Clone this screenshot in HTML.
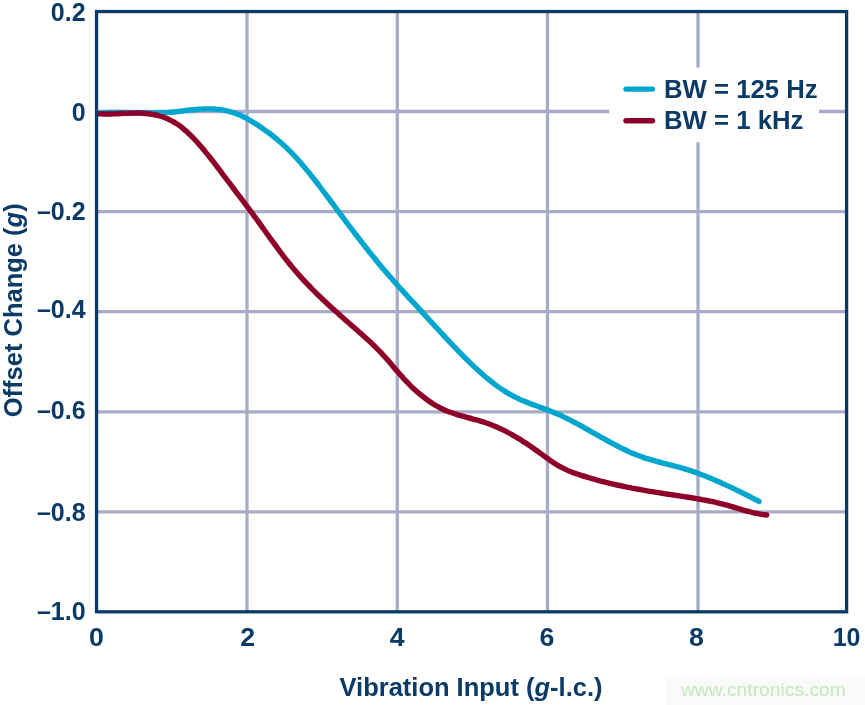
<!DOCTYPE html><html><head><meta charset="utf-8"><title>chart</title><style>html,body{margin:0;padding:0;background:#fff}svg{display:block;will-change:transform}text{font-family:"Liberation Sans",sans-serif;font-weight:bold;font-size:25px;fill:#0a3a66}</style></head><body>
<svg width="865" height="705" viewBox="0 0 865 705">
<rect width="865" height="705" fill="#fff"/>
<rect x="665" y="675" width="200" height="30" fill="#fafafa"/>
<g stroke="#a8acc6" stroke-width="3.3" fill="none">
<line x1="247.0" y1="11.55" x2="247.0" y2="611.8"/>
<line x1="397.3" y1="11.55" x2="397.3" y2="611.8"/>
<line x1="547.5" y1="11.55" x2="547.5" y2="611.8"/>
<line x1="698.0" y1="11.55" x2="698.0" y2="611.8"/>
<line x1="96.55" y1="111.5" x2="846.6" y2="111.5"/>
<line x1="96.55" y1="211.6" x2="846.6" y2="211.6"/>
<line x1="96.55" y1="311.7" x2="846.6" y2="311.7"/>
<line x1="96.55" y1="411.8" x2="846.6" y2="411.8"/>
<line x1="96.55" y1="511.9" x2="846.6" y2="511.9"/>
</g>
<rect x="609.4" y="67.6" width="209.6" height="74.5" fill="#fff"/>
<g fill="none" stroke-width="5.4" stroke-linecap="round" stroke-linejoin="round">
<path stroke="#00a6ce" d="M98.1 112.9C98.9 112.9 101.4 112.7 103.1 112.7C104.8 112.6 106.4 112.6 108.1 112.5C109.8 112.5 111.5 112.5 113.1 112.4C114.8 112.4 116.5 112.4 118.1 112.4C119.8 112.5 121.5 112.5 123.1 112.5C124.8 112.5 126.5 112.5 128.1 112.6C129.8 112.6 131.5 112.6 133.1 112.7C134.8 112.7 136.5 112.7 138.2 112.8C139.8 112.8 141.5 112.8 143.2 112.8C144.8 112.9 146.5 112.9 148.2 112.9C149.8 112.9 151.5 112.9 153.2 112.9C154.8 112.9 156.5 112.8 158.2 112.8C159.9 112.8 161.5 112.7 163.2 112.6C164.9 112.6 166.5 112.5 168.2 112.4C169.9 112.3 171.5 112.1 173.2 112.0C174.9 111.8 176.5 111.7 178.2 111.5C179.9 111.3 181.5 111.1 183.2 110.9C184.9 110.7 186.6 110.5 188.2 110.3C189.9 110.1 191.6 109.9 193.2 109.7C194.9 109.6 196.6 109.4 198.2 109.3C199.9 109.2 201.6 109.0 203.2 109.0C204.9 108.9 206.6 108.9 208.2 108.9C209.9 108.9 211.6 108.9 213.3 109.0C214.9 109.1 216.6 109.2 218.3 109.4C219.9 109.6 221.6 109.8 223.3 110.1C224.9 110.4 226.6 110.8 228.3 111.2C229.9 111.6 231.6 112.1 233.3 112.7C235.0 113.2 236.6 113.9 238.3 114.6C240.0 115.3 241.6 116.0 243.3 116.8C245.0 117.6 246.6 118.5 248.3 119.4C250.0 120.3 251.6 121.3 253.3 122.3C255.0 123.3 256.6 124.4 258.3 125.5C260.0 126.6 261.7 127.7 263.3 128.9C265.0 130.0 266.7 131.2 268.3 132.5C270.0 133.7 271.7 135.0 273.3 136.3C275.0 137.7 276.7 139.0 278.3 140.5C280.0 141.9 281.7 143.4 283.4 144.9C285.0 146.4 286.7 148.0 288.4 149.7C290.0 151.3 291.7 153.0 293.4 154.7C295.0 156.5 296.7 158.3 298.4 160.2C300.0 162.1 301.7 164.0 303.4 166.0C305.0 167.9 306.7 170.0 308.4 172.0C310.1 174.1 311.7 176.2 313.4 178.3C315.1 180.4 316.7 182.6 318.4 184.7C320.1 186.9 321.7 189.1 323.4 191.3C325.1 193.5 326.7 195.8 328.4 198.0C330.1 200.2 331.8 202.5 333.4 204.7C335.1 207.0 336.8 209.2 338.4 211.5C340.1 213.7 341.8 215.9 343.4 218.2C345.1 220.4 346.8 222.6 348.4 224.8C350.1 227.0 351.8 229.2 353.4 231.4C355.1 233.6 356.8 235.8 358.5 238.0C360.1 240.1 361.8 242.3 363.5 244.4C365.1 246.6 366.8 248.7 368.5 250.8C370.1 252.9 371.8 255.0 373.5 257.0C375.1 259.1 376.8 261.1 378.5 263.2C380.2 265.2 381.8 267.2 383.5 269.2C385.2 271.1 386.8 273.1 388.5 275.0C390.2 276.9 391.8 278.8 393.5 280.7C395.2 282.6 396.8 284.4 398.5 286.3C400.2 288.1 401.8 290.0 403.5 291.8C405.2 293.6 406.9 295.4 408.5 297.3C410.2 299.1 411.9 300.9 413.5 302.7C415.2 304.5 416.9 306.3 418.5 308.1C420.2 309.9 421.9 311.8 423.5 313.6C425.2 315.4 426.9 317.2 428.5 319.1C430.2 320.9 431.9 322.7 433.6 324.5C435.2 326.4 436.9 328.2 438.6 330.0C440.2 331.8 441.9 333.6 443.6 335.4C445.2 337.2 446.9 339.0 448.6 340.8C450.2 342.6 451.9 344.3 453.6 346.1C455.3 347.8 456.9 349.6 458.6 351.3C460.3 353.0 461.9 354.7 463.6 356.4C465.3 358.1 466.9 359.7 468.6 361.3C470.3 363.0 471.9 364.6 473.6 366.1C475.3 367.7 476.9 369.3 478.6 370.8C480.3 372.3 482.0 373.8 483.6 375.2C485.3 376.7 487.0 378.1 488.6 379.4C490.3 380.8 492.0 382.1 493.6 383.4C495.3 384.7 497.0 385.9 498.6 387.1C500.3 388.3 502.0 389.4 503.7 390.5C505.3 391.6 507.0 392.6 508.7 393.6C510.3 394.6 512.0 395.5 513.7 396.3C515.3 397.2 517.0 398.0 518.7 398.8C520.3 399.6 522.0 400.3 523.7 401.0C525.3 401.7 527.0 402.4 528.7 403.0C530.4 403.7 532.0 404.3 533.7 404.9C535.4 405.5 537.0 406.1 538.7 406.7C540.4 407.3 542.0 407.9 543.7 408.6C545.4 409.2 547.0 409.8 548.7 410.4C550.4 411.1 552.1 411.7 553.7 412.4C555.4 413.1 557.1 413.8 558.7 414.6C560.4 415.3 562.1 416.1 563.7 416.9C565.4 417.7 567.1 418.5 568.7 419.4C570.4 420.2 572.1 421.1 573.7 422.0C575.4 422.9 577.1 423.8 578.8 424.7C580.4 425.6 582.1 426.5 583.8 427.4C585.4 428.4 587.1 429.3 588.8 430.3C590.4 431.2 592.1 432.2 593.8 433.1C595.4 434.0 597.1 435.0 598.8 435.9C600.5 436.9 602.1 437.8 603.8 438.7C605.5 439.7 607.1 440.6 608.8 441.5C610.5 442.4 612.1 443.3 613.8 444.2C615.5 445.1 617.1 446.0 618.8 446.8C620.5 447.7 622.1 448.5 623.8 449.3C625.5 450.1 627.2 450.9 628.8 451.6C630.5 452.4 632.2 453.1 633.8 453.8C635.5 454.5 637.2 455.2 638.8 455.8C640.5 456.4 642.2 457.0 643.8 457.6C645.5 458.2 647.2 458.7 648.9 459.2C650.5 459.7 652.2 460.2 653.9 460.6C655.5 461.1 657.2 461.6 658.9 462.0C660.5 462.4 662.2 462.9 663.9 463.3C665.5 463.7 667.2 464.1 668.9 464.6C670.5 465.0 672.2 465.4 673.9 465.8C675.6 466.3 677.2 466.7 678.9 467.2C680.6 467.7 682.2 468.1 683.9 468.6C685.6 469.1 687.2 469.7 688.9 470.2C690.6 470.7 692.2 471.3 693.9 471.9C695.6 472.5 697.2 473.1 698.9 473.7C700.6 474.3 702.3 474.9 703.9 475.6C705.6 476.2 707.3 476.9 708.9 477.6C710.6 478.2 712.3 478.9 713.9 479.6C715.6 480.4 717.3 481.1 718.9 481.8C720.6 482.6 722.3 483.3 724.0 484.1C725.6 484.8 727.3 485.6 729.0 486.4C730.6 487.2 732.3 488.0 734.0 488.8C735.6 489.6 737.3 490.4 739.0 491.2C740.6 492.0 742.3 492.9 744.0 493.7C745.6 494.6 747.3 495.4 749.0 496.3C750.7 497.1 752.3 498.0 754.0 498.8C755.7 499.7 758.2 501.0 759.0 501.4"/>
<path stroke="#8e0029" d="M98.1 113.7C98.9 113.8 101.4 113.9 103.1 114.0C104.8 114.0 106.4 114.0 108.1 114.0C109.7 114.0 111.4 113.9 113.1 113.9C114.7 113.8 116.4 113.8 118.1 113.7C119.7 113.6 121.4 113.5 123.0 113.4C124.7 113.4 126.4 113.3 128.0 113.2C129.7 113.1 131.4 113.1 133.0 113.1C134.7 113.0 136.4 113.0 138.0 113.0C139.7 113.1 141.3 113.1 143.0 113.2C144.7 113.3 146.3 113.5 148.0 113.7C149.7 113.8 151.3 114.1 153.0 114.4C154.6 114.7 156.3 115.0 158.0 115.5C159.6 115.9 161.3 116.4 163.0 117.0C164.6 117.6 166.3 118.2 168.0 119.0C169.6 119.7 171.3 120.6 172.9 121.5C174.6 122.4 176.3 123.5 177.9 124.6C179.6 125.7 181.3 127.0 182.9 128.3C184.6 129.7 186.2 131.2 187.9 132.7C189.6 134.2 191.2 135.9 192.9 137.6C194.6 139.3 196.2 141.1 197.9 143.0C199.6 144.9 201.2 146.8 202.9 148.8C204.5 150.8 206.2 152.8 207.9 154.9C209.5 156.9 211.2 159.1 212.9 161.2C214.5 163.3 216.2 165.5 217.8 167.7C219.5 169.9 221.2 172.1 222.8 174.3C224.5 176.5 226.2 178.7 227.8 180.9C229.5 183.1 231.2 185.3 232.8 187.5C234.5 189.7 236.1 191.9 237.8 194.1C239.5 196.3 241.1 198.5 242.8 200.7C244.5 203.0 246.1 205.2 247.8 207.4C249.4 209.6 251.1 211.9 252.8 214.1C254.4 216.4 256.1 218.7 257.8 220.9C259.4 223.2 261.1 225.5 262.8 227.8C264.4 230.1 266.1 232.4 267.7 234.7C269.4 237.1 271.1 239.4 272.7 241.6C274.4 243.9 276.1 246.2 277.7 248.4C279.4 250.7 281.1 252.9 282.7 255.1C284.4 257.3 286.0 259.4 287.7 261.5C289.4 263.6 291.0 265.7 292.7 267.7C294.4 269.7 296.0 271.6 297.7 273.5C299.3 275.4 301.0 277.3 302.7 279.1C304.3 280.9 306.0 282.7 307.7 284.4C309.3 286.2 311.0 287.9 312.7 289.6C314.3 291.2 316.0 292.9 317.6 294.5C319.3 296.1 321.0 297.7 322.6 299.3C324.3 300.9 326.0 302.5 327.6 304.0C329.3 305.6 330.9 307.1 332.6 308.6C334.3 310.1 335.9 311.6 337.6 313.1C339.3 314.6 340.9 316.1 342.6 317.5C344.3 319.0 345.9 320.5 347.6 321.9C349.2 323.4 350.9 324.8 352.6 326.3C354.2 327.7 355.9 329.2 357.6 330.6C359.2 332.1 360.9 333.5 362.5 335.0C364.2 336.5 365.9 338.0 367.5 339.5C369.2 341.0 370.9 342.6 372.5 344.2C374.2 345.8 375.9 347.4 377.5 349.1C379.2 350.7 380.8 352.5 382.5 354.3C384.2 356.1 385.8 357.9 387.5 359.8C389.2 361.7 390.8 363.7 392.5 365.7C394.1 367.7 395.8 369.7 397.5 371.6C399.1 373.5 400.8 375.4 402.5 377.2C404.1 379.1 405.8 380.8 407.5 382.5C409.1 384.3 410.8 385.9 412.4 387.5C414.1 389.1 415.8 390.6 417.4 392.1C419.1 393.5 420.8 394.9 422.4 396.2C424.1 397.6 425.7 398.8 427.4 400.0C429.1 401.2 430.7 402.4 432.4 403.4C434.1 404.5 435.7 405.5 437.4 406.4C439.1 407.3 440.7 408.2 442.4 409.0C444.0 409.8 445.7 410.5 447.4 411.2C449.0 411.8 450.7 412.4 452.4 413.0C454.0 413.6 455.7 414.1 457.3 414.6C459.0 415.2 460.7 415.6 462.3 416.1C464.0 416.6 465.7 417.0 467.3 417.5C469.0 417.9 470.7 418.3 472.3 418.8C474.0 419.2 475.6 419.7 477.3 420.2C479.0 420.6 480.6 421.1 482.3 421.6C484.0 422.2 485.6 422.7 487.3 423.3C488.9 423.9 490.6 424.5 492.3 425.2C493.9 425.8 495.6 426.5 497.3 427.3C498.9 428.0 500.6 428.8 502.3 429.6C503.9 430.4 505.6 431.2 507.2 432.1C508.9 432.9 510.6 433.8 512.2 434.8C513.9 435.7 515.6 436.7 517.2 437.7C518.9 438.7 520.5 439.7 522.2 440.8C523.9 441.8 525.5 442.9 527.2 444.0C528.9 445.2 530.5 446.3 532.2 447.5C533.9 448.6 535.5 449.8 537.2 451.0C538.8 452.2 540.5 453.4 542.2 454.6C543.8 455.8 545.5 457.0 547.2 458.2C548.8 459.4 550.5 460.6 552.1 461.7C553.8 462.9 555.5 464.0 557.1 465.0C558.8 465.9 560.5 466.9 562.1 467.7C563.8 468.6 565.5 469.4 567.1 470.1C568.8 470.9 570.4 471.5 572.1 472.2C573.8 472.8 575.4 473.4 577.1 474.0C578.8 474.6 580.4 475.1 582.1 475.7C583.7 476.2 585.4 476.7 587.1 477.2C588.7 477.7 590.4 478.2 592.1 478.7C593.7 479.1 595.4 479.6 597.1 480.1C598.7 480.5 600.4 480.9 602.0 481.4C603.7 481.8 605.4 482.2 607.0 482.6C608.7 483.0 610.4 483.4 612.0 483.8C613.7 484.2 615.4 484.6 617.0 485.0C618.7 485.3 620.3 485.7 622.0 486.0C623.7 486.4 625.3 486.7 627.0 487.1C628.7 487.4 630.3 487.7 632.0 488.1C633.6 488.4 635.3 488.7 637.0 489.0C638.6 489.3 640.3 489.6 642.0 489.9C643.6 490.2 645.3 490.5 647.0 490.8C648.6 491.1 650.3 491.4 651.9 491.6C653.6 491.9 655.3 492.2 656.9 492.4C658.6 492.7 660.3 493.0 661.9 493.2C663.6 493.5 665.2 493.8 666.9 494.0C668.6 494.3 670.2 494.5 671.9 494.8C673.6 495.0 675.2 495.3 676.9 495.5C678.6 495.8 680.2 496.0 681.9 496.3C683.5 496.5 685.2 496.8 686.9 497.0C688.5 497.3 690.2 497.6 691.9 497.8C693.5 498.1 695.2 498.4 696.8 498.7C698.5 499.0 700.2 499.2 701.8 499.6C703.5 499.9 705.2 500.2 706.8 500.5C708.5 500.8 710.2 501.2 711.8 501.5C713.5 501.9 715.1 502.3 716.8 502.6C718.5 503.0 720.1 503.4 721.8 503.9C723.5 504.3 725.1 504.7 726.8 505.2C728.4 505.7 730.1 506.2 731.8 506.6C733.4 507.1 735.1 507.6 736.8 508.1C738.4 508.6 740.1 509.1 741.8 509.6C743.4 510.1 745.1 510.5 746.7 511.0C748.4 511.4 750.1 511.9 751.7 512.3C753.4 512.7 755.1 513.1 756.7 513.4C758.4 513.8 760.0 514.1 761.7 514.4C763.4 514.6 765.9 514.9 766.7 515.0"/>
<line stroke="#00a6ce" x1="626" y1="89.1" x2="652.5" y2="89.1"/>
<line stroke="#8e0029" x1="626" y1="120.7" x2="652.5" y2="120.7"/>
</g>
<rect x="96.55" y="11.55" width="750.0500000000001" height="600.25" fill="none" stroke="#0a3a66" stroke-width="3.3"/>
<text id="lg1" transform="translate(664.00 97.80) scale(1.0300 1)" text-anchor="start" >BW = 125 Hz</text>
<text id="lg2" transform="translate(664.00 129.00) scale(1.0300 1)" text-anchor="start" >BW = 1 kHz</text>
<text id="yt0" transform="translate(85.60 21.00) scale(1.0000 1)" text-anchor="end" >0.2</text>
<text id="yt1" transform="translate(85.60 121.10) scale(1.0000 1)" text-anchor="end" >0</text>
<text id="yt2" transform="translate(85.60 220.10) scale(1.0000 1)" text-anchor="end" >–0.2</text>
<text id="yt3" transform="translate(85.60 318.10) scale(1.0000 1)" text-anchor="end" >–0.4</text>
<text id="yt4" transform="translate(85.60 419.10) scale(1.0000 1)" text-anchor="end" >–0.6</text>
<text id="yt5" transform="translate(85.60 520.90) scale(1.0000 1)" text-anchor="end" >–0.8</text>
<text id="yt6" transform="translate(85.60 620.10) scale(1.0000 1)" text-anchor="end" >–1.0</text>
<text id="xt0" transform="translate(96.50 645.90) scale(1.0700 1)" text-anchor="middle" >0</text>
<text id="xt2" transform="translate(247.60 645.90) scale(1.0700 1)" text-anchor="middle" >2</text>
<text id="xt4" transform="translate(397.30 645.90) scale(1.0700 1)" text-anchor="middle" >4</text>
<text id="xt6" transform="translate(546.90 645.90) scale(1.0700 1)" text-anchor="middle" >6</text>
<text id="xt8" transform="translate(696.55 645.90) scale(1.0700 1)" text-anchor="middle" >8</text>
<text id="xt10" transform="translate(846.60 645.90) scale(1.0000 1)" text-anchor="middle" >10</text>
<text id="xlab" transform="translate(471.00 695.90) scale(1.0200 1)" text-anchor="middle" >Vibration Input (<tspan font-style="italic">g</tspan>-l.c.)</text>
<text id="ylab" transform="translate(22.4 310.3) rotate(-90) scale(1.0200 1)" text-anchor="middle">Offset Change (<tspan font-style="italic">g</tspan>)</text>
<text id="wm" transform="translate(680.9 695.5) scale(1.015 1)" style="font-weight:normal;font-size:19px;fill:#c4e7bb">www.cntronics.com</text>
</svg></body></html>
